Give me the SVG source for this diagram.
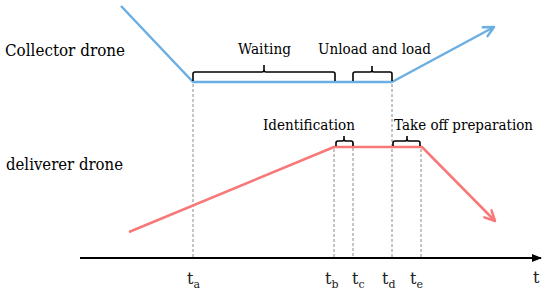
<svg xmlns="http://www.w3.org/2000/svg" width="550" height="293" viewBox="0 0 550 293">
<style>
.lbl{font-family:"DejaVu Serif",serif;fill:#000}
.big{font-size:17.5px}
.sm{font-size:15.5px}
.tl{font-family:"DejaVu Serif",serif;font-size:16px;fill:#222}
.sub{font-size:11px}
.dash{stroke:#8a8a8a;stroke-width:1;stroke-dasharray:3,2;fill:none}
.brace{stroke:#000;stroke-width:1.6;fill:none;stroke-linejoin:round}
.blue{stroke:#6aaee2;stroke-width:2.5;fill:none;stroke-linejoin:round}
.red{stroke:#f87878;stroke-width:2.5;fill:none;stroke-linejoin:round}
</style>
<defs>
<marker id="ab" markerUnits="userSpaceOnUse" viewBox="0 0 14 14" refX="12" refY="7" markerWidth="14" markerHeight="14" orient="auto">
<path d="M2,2 L12,7 L2,12" fill="none" stroke="#6aaee2" stroke-width="2.5" stroke-linecap="round" stroke-linejoin="round"/>
</marker>
<marker id="ar" markerUnits="userSpaceOnUse" viewBox="0 0 14 14" refX="12" refY="7" markerWidth="14" markerHeight="14" orient="auto">
<path d="M2,2 L12,7 L2,12" fill="none" stroke="#f87878" stroke-width="2.5" stroke-linecap="round" stroke-linejoin="round"/>
</marker>
<marker id="ak" markerUnits="userSpaceOnUse" viewBox="0 0 10 10" refX="9" refY="5" markerWidth="10" markerHeight="10" orient="auto">
<path d="M0,1 L10,5 L0,9 Z" fill="#000"/>
</marker>
</defs>

<g id="connectors">
<line id="dash-ta" class="dash" x1="193" y1="84" x2="193" y2="257"/>
<line id="dash-tb" class="dash" x1="334" y1="149" x2="334" y2="257"/>
<line id="dash-tc" class="dash" x1="353" y1="143" x2="353" y2="257"/>
<line id="dash-td" class="dash" x1="392" y1="84" x2="392" y2="257"/>
<line id="dash-te" class="dash" x1="421" y1="149" x2="421" y2="257"/>
<polyline id="collector-path" class="blue" points="121,6 193,82 392,82 494,27" marker-end="url(#ab)"/>
<polyline id="deliverer-path" class="red" points="129,232 334,147 422,147 495,221" marker-end="url(#ar)"/>
<line id="time-axis" x1="80" y1="258" x2="541" y2="258" stroke="#000" stroke-width="2" marker-end="url(#ak)"/>
</g>

<g id="braces">
<path id="brace-waiting" class="brace" d="M193,81 V74 Q193,72 195,72 H262 Q264,72 264,70 V65 M264,70 Q264,72 266,72 H333 Q335,72 335,74 V81"/>
<path id="brace-unload" class="brace" d="M353,81 V74 Q353,72 355,72 H370 Q372,72 372,70 V66 M372,70 Q372,72 374,72 H390 Q392,72 392,74 V81"/>
<path id="brace-ident" class="brace" d="M336,146 V143 Q336,141 338,141 H342 Q344,141 344,139 V136 M344,139 Q344,141 346,141 H351 Q353,141 353,143 V146"/>
<path id="brace-takeoff" class="brace" d="M393,146 V143 Q393,141 395,141 H405 Q407,141 407,139 V136 M407,139 Q407,141 409,141 H418 Q420,141 420,143 V146"/>
</g>

<g id="node-collector"><text class="lbl big" x="5" y="56" textLength="120" lengthAdjust="spacingAndGlyphs">Collector drone</text></g>
<g id="node-deliverer"><text class="lbl big" x="6" y="170" textLength="117" lengthAdjust="spacingAndGlyphs">deliverer drone</text></g>
<g id="node-waiting"><text class="lbl sm" x="238" y="54" textLength="53" lengthAdjust="spacingAndGlyphs">Waiting</text></g>
<g id="node-unload"><text class="lbl sm" x="318" y="54" textLength="113" lengthAdjust="spacingAndGlyphs">Unload and load</text></g>
<g id="node-ident"><text class="lbl sm" x="263" y="130" textLength="92" lengthAdjust="spacingAndGlyphs">Identification</text></g>
<g id="node-takeoff"><text class="lbl sm" x="394" y="130" textLength="139" lengthAdjust="spacingAndGlyphs">Take off preparation</text></g>

<g id="node-ta"><text class="tl" x="187" y="284">t<tspan class="sub" dy="4">a</tspan></text></g>
<g id="node-tb"><text class="tl" x="325" y="284">t<tspan class="sub" dy="4">b</tspan></text></g>
<g id="node-tc"><text class="tl" x="352" y="284">t<tspan class="sub" dy="4">c</tspan></text></g>
<g id="node-td"><text class="tl" x="382" y="284">t<tspan class="sub" dy="4">d</tspan></text></g>
<g id="node-te"><text class="tl" x="410" y="284">t<tspan class="sub" dy="4">e</tspan></text></g>
<g id="node-t"><text class="tl" x="533" y="283">t</text></g>
</svg>
